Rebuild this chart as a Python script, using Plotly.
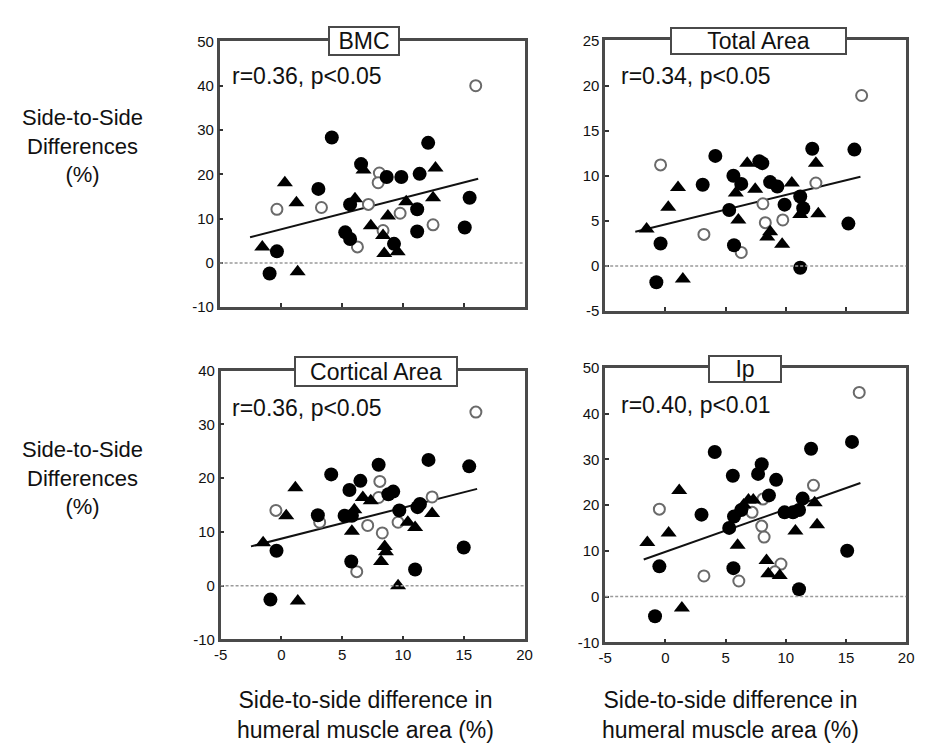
import plotly.graph_objects as go

# ---------------- data ----------------
# BMC panel
bmc_filled_x = [-0.9, -0.3, 4.2, 3.1, 6.6, 5.7, 5.3, 5.7, 8.7, 9.9, 11.4, 12.1, 11.2, 11.2, 9.3, 15.5, 15.1]
bmc_filled_y = [-2.4, 2.6, 28.3, 16.7, 22.3, 13.2, 6.9, 5.4, 19.4, 19.4, 20.1, 27.1, 12.1, 7.1, 4.3, 14.7, 8.0]
bmc_tri_x = [-1.5, 0.35, 1.3, 1.4, 6.1, 7.4, 8.8, 8.4, 8.5, 9.6, 10.3, 12.5, 12.7, 6.8]
bmc_tri_y = [3.6, 18.1, 13.6, -2.0, 14.5, 8.4, 10.6, 6.2, 2.1, 2.5, 13.8, 14.7, 21.4, 21.0]
bmc_open_x = [-0.3, 3.35, 6.3, 7.2, 8.1, 8.0, 9.8, 12.5, 16.0, 8.4]
bmc_open_y = [12.1, 12.5, 3.6, 13.2, 20.3, 18.1, 11.2, 8.6, 40.0, 7.3]
bmc_fit_x = [-2.5, 16.2]
bmc_fit_y = [5.8, 19.0]

# Total Area panel
ta_filled_x = [-0.75, -0.4, 3.1, 4.15, 5.3, 5.65, 6.3, 5.7, 7.8, 8.05, 8.7, 9.3, 9.9, 11.2, 11.45, 11.2, 12.2, 15.7, 15.2]
ta_filled_y = [-1.8, 2.5, 9.0, 12.2, 6.2, 10.0, 9.1, 2.3, 11.6, 11.4, 9.3, 8.8, 6.8, 7.7, 6.4, -0.2, 13.0, 12.9, 4.7]
ta_tri_x = [-1.56, 0.24, 1.05, 1.45, 5.85, 6.06, 6.8, 7.46, 8.46, 8.7, 9.7, 10.5, 12.5, 12.7, 11.2]
ta_tri_y = [4.1, 6.5, 8.7, -1.45, 8.1, 5.1, 11.4, 8.5, 3.2, 3.8, 2.4, 9.2, 11.4, 5.8, 5.7]
ta_open_x = [-0.4, 3.2, 6.3, 8.1, 8.3, 9.75, 12.5, 16.3]
ta_open_y = [11.2, 3.5, 1.5, 6.9, 4.8, 5.1, 9.2, 18.9]
ta_fit_x = [-2.5, 16.2]
ta_fit_y = [3.8, 9.9]

# Cortical Area panel
ca_filled_x = [-0.9, -0.4, 4.1, 3.0, 5.6, 6.5, 8.0, 5.2, 5.8, 5.75, 9.2, 8.8, 9.7, 11.2, 11.4, 11.0, 12.1, 15.45, 15.0]
ca_filled_y = [-2.6, 6.5, 20.7, 13.1, 17.8, 19.5, 22.5, 13.0, 13.0, 4.5, 17.5, 17.0, 14.0, 14.6, 15.2, 3.0, 23.4, 22.2, 7.1]
ca_tri_x = [-1.5, 0.4, 1.15, 1.35, 6.0, 6.7, 7.35, 5.8, 8.5, 8.2, 8.6, 9.6, 10.4, 11.0, 12.4]
ca_tri_y = [8.0, 13.0, 18.2, -2.85, 14.1, 16.4, 15.8, 10.1, 7.3, 4.5, 6.3, 0.0, 11.8, 10.8, 13.4]
ca_open_x = [-0.45, 3.15, 6.2, 7.1, 8.1, 8.0, 8.3, 9.6, 12.4, 16.0]
ca_open_y = [14.0, 11.8, 2.6, 11.2, 19.4, 16.4, 9.8, 11.8, 16.5, 32.3]
ca_fit_x = [-2.5, 16.1]
ca_fit_y = [7.3, 18.0]

# Ip panel
ip_filled_x = [-0.86, -0.5, 3.0, 4.1, 5.3, 5.6, 5.65, 7.7, 8.0, 8.6, 9.2, 9.9, 10.6, 11.1, 11.4, 11.1, 12.1, 15.5, 15.1, 5.7, 6.3]
ip_filled_y = [-4.3, 6.6, 17.9, 31.6, 15.0, 26.4, 6.2, 26.8, 28.9, 22.1, 25.5, 18.4, 18.4, 18.9, 21.4, 1.6, 32.3, 33.8, 10.0, 17.5, 18.9]
ip_tri_x = [-1.5, 0.27, 1.15, 1.37, 6.0, 6.5, 6.9, 7.3, 8.4, 8.55, 9.5, 10.8, 12.6, 12.4]
ip_tri_y = [11.8, 13.9, 23.2, -2.5, 11.2, 20.0, 21.1, 21.1, 7.9, 5.0, 4.6, 14.3, 15.7, 20.5]
ip_open_x = [-0.5, 3.2, 6.1, 7.2, 8.1, 8.0, 8.2, 9.6, 9.1, 12.3, 16.1]
ip_open_y = [19.1, 4.5, 3.4, 18.4, 21.3, 15.4, 13.0, 7.1, 5.4, 24.3, 44.6]
ip_fit_x = [-1.8, 16.2]
ip_fit_y = [8.1, 24.8]

panel_titles = ["BMC", "Total Area", "Cortical Area", "Ip"]
panel_stats = ["r=0.36, p<0.05", "r=0.34, p<0.05", "r=0.36, p<0.05", "r=0.40, p<0.01"]
x_ticks = [-5, 0, 5, 10, 15, 20]
y_ticks_bmc = [-10, 0, 10, 20, 30, 40, 50]
y_ticks_ta = [-5, 0, 5, 10, 15, 20, 25]
y_ticks_ca = [-10, 0, 10, 20, 30, 40]
y_ticks_ip = [-10, 0, 10, 20, 30, 40, 50]
y_title_lines = ["Side-to-Side", "Differences", "(%)"]
x_title_lines = ["Side-to-side difference in", "humeral muscle area (%)"]

# ---------------- layout helpers ----------------
# The page body adds an 8px margin, so the figure is made 8px smaller on each
# axis and every target page-pixel position is shifted by that offset.
OFF = 8
W, H = 925 - OFF, 748 - OFF
FONT = "Liberation Sans, Arial, Helvetica, sans-serif"


def px(x):
    return (x - OFF) / W


def py(y):
    return 1 - (y - OFF) / H


fig = go.Figure()

panels = [
    dict(fx=bmc_filled_x, fy=bmc_filled_y, tx=bmc_tri_x, ty=bmc_tri_y, ox=bmc_open_x, oy=bmc_open_y,
         lx=bmc_fit_x, ly=bmc_fit_y, xa="x", ya="y", xd=(216, 526), yd=(33, 305), yr=(-10, 50),
         yt=y_ticks_bmc, bottom=False, box=(363, 33, 68, 26), stat=(227, 68)),
    dict(fx=ta_filled_x, fy=ta_filled_y, tx=ta_tri_x, ty=ta_tri_y, ox=ta_open_x, oy=ta_open_y,
         lx=ta_fit_x, ly=ta_fit_y, xa="x2", ya="y2", xd=(608, 914), yd=(32, 309), yr=(-5, 25),
         yt=y_ticks_ta, bottom=False, box=(764, 33, 173, 24), stat=(622, 68)),
    dict(fx=ca_filled_x, fy=ca_filled_y, tx=ca_tri_x, ty=ca_tri_y, ox=ca_open_x, oy=ca_open_y,
         lx=ca_fit_x, ly=ca_fit_y, xa="x3", ya="y3", xd=(217, 526), yd=(370, 645), yr=(-10, 40),
         yt=y_ticks_ca, bottom=True, box=(375, 371, 160, 27), stat=(227, 408)),
    dict(fx=ip_filled_x, fy=ip_filled_y, tx=ip_tri_x, ty=ip_tri_y, ox=ip_open_x, oy=ip_open_y,
         lx=ip_fit_x, ly=ip_fit_y, xa="x4", ya="y4", xd=(608, 914), yd=(367, 648), yr=(-10, 50),
         yt=y_ticks_ip, bottom=True, box=(750, 368, 70, 24), stat=(622, 405)),
]

annotations = []
shapes = []
for i, p in enumerate(panels):
    xa, ya = p["xa"], p["ya"]
    # regression line
    fig.add_trace(go.Scatter(x=p["lx"], y=p["ly"], mode="lines", xaxis=xa, yaxis=ya,
                             line=dict(color="#111111", width=2), showlegend=False, hoverinfo="skip"))
    # open circles
    fig.add_trace(go.Scatter(x=p["ox"], y=p["oy"], mode="markers", xaxis=xa, yaxis=ya,
                             marker=dict(symbol="circle", size=11, color="white",
                                         line=dict(color="#6a6a6a", width=2)),
                             showlegend=False))
    # triangles
    fig.add_trace(go.Scatter(x=p["tx"], y=p["ty"], mode="markers", xaxis=xa, yaxis=ya,
                             marker=dict(symbol="triangle-up", size=14, color="black",
                                         line=dict(width=0)),
                             showlegend=False))
    # filled circles
    fig.add_trace(go.Scatter(x=p["fx"], y=p["fy"], mode="markers", xaxis=xa, yaxis=ya,
                             marker=dict(symbol="circle", size=14, color="black",
                                         line=dict(width=0)),
                             showlegend=False))

    axsuffix = "" if i == 0 else str(i + 1)
    common = dict(showline=True, linecolor="#4a4a4a", linewidth=2.5, mirror=True,
                  ticks="inside", ticklen=4, tickwidth=1.5, tickcolor="#333333",
                  showgrid=False, zeroline=False,
                  tickfont=dict(family=FONT, size=15, color="#111111"))
    fig.update_layout(**{
        "xaxis" + axsuffix: dict(domain=[px(p["xd"][0]), px(p["xd"][1])], range=[-5, 20],
                                 tickvals=x_ticks, ticktext=[str(v) for v in x_ticks],
                                 showticklabels=p["bottom"], anchor=ya, **common),
        "yaxis" + axsuffix: dict(domain=[py(p["yd"][1]), py(p["yd"][0])], range=list(p["yr"]),
                                 tickvals=p["yt"], ticktext=[str(v) for v in p["yt"]],
                                 anchor=xa, **common),
    })
    # zero dashed reference line
    shapes.append(dict(type="line", xref=xa + " domain", x0=0, x1=1, yref=ya, y0=0, y1=0,
                       line=dict(color="#9a9a9a", width=1.5, dash="3px,2px")))
    # title box
    bx, by, bw, bh = p["box"]
    annotations.append(dict(text=panel_titles[i], xref="paper", yref="paper", x=px(bx), y=py(by),
                            xanchor="center", yanchor="middle", showarrow=False,
                            width=bw, height=bh, bgcolor="white", bordercolor="#4a4a4a",
                            borderwidth=2, borderpad=0,
                            font=dict(family=FONT, size=23, color="#111111")))
    # statistics text
    sx, sy = p["stat"]
    annotations.append(dict(text=panel_stats[i], xref="paper", yref="paper", x=px(sx), y=py(sy),
                            xanchor="left", yanchor="middle", showarrow=False,
                            font=dict(family=FONT, size=23, color="#111111")))

# y axis titles (left), one multi-line text per row of panels
for yc in (140, 480):
    annotations.append(dict(text="<br>".join(y_title_lines), xref="paper", yref="paper",
                            x=px(77), y=py(yc), xanchor="center", yanchor="middle",
                            align="center", showarrow=False,
                            font=dict(family=FONT, size=22, color="#111111")))
# x axis titles (bottom)
for x0 in (364, 735):
    annotations.append(dict(text="<br>".join(x_title_lines), xref="paper", yref="paper",
                            x=px(x0), y=py(722), xanchor="center", yanchor="middle",
                            align="center", showarrow=False,
                            font=dict(family=FONT, size=23, color="#111111")))

fig.update_layout(width=W, height=H, margin=dict(l=0, r=0, t=0, b=0),
                  paper_bgcolor="white", plot_bgcolor="white",
                  annotations=annotations, shapes=shapes, showlegend=False,
                  font=dict(family=FONT))

fig.write_html("out.html")
